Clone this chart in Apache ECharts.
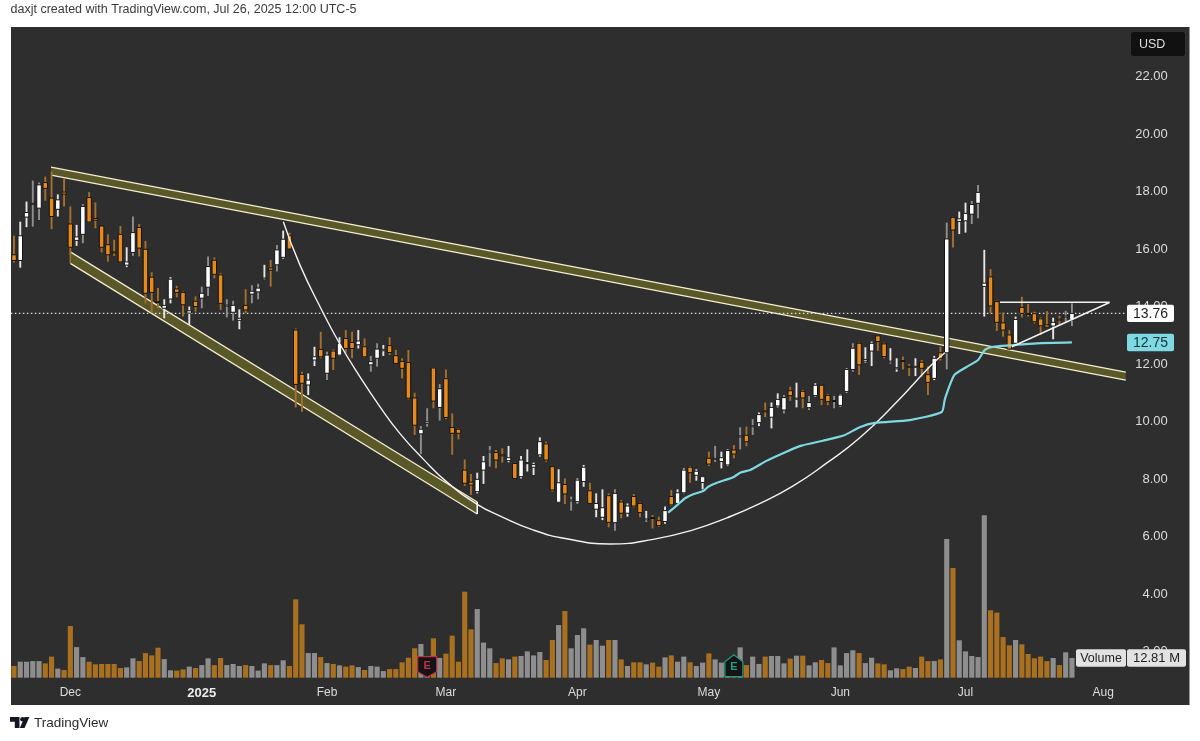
<!DOCTYPE html>
<html><head><meta charset="utf-8">
<style>html,body{margin:0;padding:0;background:#fff}#c{width:1200px;height:741px}</style>
<script src="https://cdn.jsdelivr.net/npm/echarts@6/dist/echarts.min.js"></script>
</head><body><div id="c"></div>
<script>
const opens = [15.80,15.60,17.11,17.57,17.42,18.31,17.77,17.38,17.98,16.87,16.30,16.51,17.79,17.06,16.80,16.15,15.90,16.51,15.44,15.88,16.75,15.99,15.02,14.17,13.94,14.26,14.61,14.49,13.77,14.18,14.29,14.67,15.61,15.10,14.04,13.80,13.52,14.04,14.43,14.51,14.98,15.34,15.45,15.71,16.46,
13.18,11.64,11.27,12.14,12.51,11.68,12.45,12.31,12.89,12.75,12.67,12.60,11.97,12.20,12.46,12.64,12.29,12.09,12.05,10.82,9.57,9.94,11.86,10.49,11.49,9.79,9.73,8.31,7.89,7.56,8.31,8.96,8.92,8.84,8.64,8.54,8.08,8.56,8.41,8.84,9.22,8.43,7.19,7.81,7.26,7.21,
7.91,7.59,6.95,6.67,7.42,6.48,7.20,6.81,7.39,7.15,6.60,6.66,6.55,6.52,7.39,7.15,7.52,8.41,8.13,7.88,8.72,8.71,8.61,8.49,9.01,9.49,9.52,9.84,9.96,10.37,10.15,10.54,10.40,11.07,10.80,11.05,10.48,10.90,11.26,10.91,10.72,10.56,11.04,11.81,12.72,
12.10,12.45,12.98,12.70,12.09,11.83,12.12,11.92,11.91,12.06,11.63,11.50,12.39,12.39,17.10,16.96,16.98,17.21,17.59,14.70,15.03,14.17,13.43,13.01,12.72,13.97,13.76,13.75,13.57,13.36,13.32,13.56,13.66,13.53];
const closes = [15.60,16.46,17.27,17.59,18.23,18.11,17.13,17.71,17.91,16.06,16.42,17.48,16.94,17.00,16.06,15.80,15.88,15.55,15.55,16.57,16.03,14.46,14.49,14.15,14.04,14.95,14.49,14.06,13.85,14.00,14.46,15.39,15.12,14.11,14.05,14.04,13.59,13.88,14.53,14.64,14.99,15.26,15.97,16.34,16.00,
11.29,11.33,11.44,12.25,12.25,12.31,12.20,12.72,12.54,12.54,12.80,12.25,12.08,12.52,12.51,12.40,12.02,11.85,10.81,9.87,9.73,9.99,10.71,11.14,10.14,9.59,9.59,7.85,7.79,7.99,8.60,8.97,8.66,8.83,8.74,8.02,8.66,8.57,8.50,9.30,8.66,7.62,7.87,7.48,7.27,7.96,
8.41,7.15,7.15,7.00,6.49,7.50,6.81,7.06,7.06,6.83,6.61,6.65,6.38,6.90,7.10,7.52,8.31,8.22,8.27,8.08,8.52,8.72,8.74,8.99,8.87,9.50,9.30,9.85,10.24,10.36,10.49,10.77,10.83,10.90,10.81,10.82,10.66,11.26,10.77,10.69,10.73,10.92,11.81,12.55,11.97,
12.16,12.72,12.78,12.26,12.10,11.87,12.11,11.91,11.92,11.85,11.36,12.20,12.20,16.35,16.66,17.05,17.24,17.55,17.97,14.81,14.02,13.45,13.18,12.52,13.55,13.76,13.75,13.47,13.33,13.28,13.45,13.55,13.67,13.76];
const lows = [15.53,15.35,16.76,16.78,17.01,17.68,16.69,17.13,17.48,15.80,16.11,16.20,16.92,16.72,15.88,15.56,15.76,15.53,15.37,15.76,15.74,14.11,13.79,13.95,13.59,14.11,14.32,13.65,13.36,13.82,13.94,14.37,14.98,13.88,13.62,13.51,13.21,13.77,14.11,14.25,14.93,14.69,15.22,15.66,16.00,
10.49,10.34,10.92,11.93,12.20,11.44,11.79,12.29,12.39,12.20,12.54,12.23,11.73,11.91,12.28,12.31,12.00,11.50,10.77,9.53,8.87,9.82,10.46,10.03,10.08,8.84,9.38,7.76,7.44,7.50,7.83,8.43,8.37,8.57,8.58,8.00,8.02,8.26,8.14,8.78,8.60,7.56,7.18,7.13,6.90,7.15,
7.73,7.13,6.67,6.57,6.32,6.20,6.63,6.69,7.01,6.67,6.52,6.28,6.34,6.44,7.06,7.13,7.50,7.87,7.94,7.64,8.45,8.59,8.37,8.45,8.72,9.03,9.14,9.53,9.84,10.15,9.76,10.49,10.28,10.72,10.49,10.46,10.40,10.86,10.57,10.57,10.46,10.52,11.00,11.73,11.62,
12.05,11.93,12.46,12.20,12.02,11.73,11.81,11.58,11.58,11.56,10.92,11.44,12.12,11.81,16.05,16.52,16.57,16.87,17.07,13.65,13.76,13.15,12.95,12.49,12.72,13.62,13.65,13.41,13.01,13.27,12.86,13.36,13.47,13.32];
const highs = [16.46,16.95,17.65,18.38,18.31,18.52,18.69,17.90,18.44,17.48,16.84,17.56,17.98,17.62,16.80,16.51,16.32,16.80,16.06,17.13,16.87,16.28,15.19,14.64,14.25,15.02,14.72,14.52,14.00,14.35,14.69,15.74,15.71,15.16,14.25,14.20,13.90,14.60,14.74,14.79,15.45,15.62,16.14,16.64,16.57,
13.24,11.73,11.67,12.60,13.12,12.43,12.51,12.93,13.18,13.12,13.18,12.89,12.28,12.72,12.66,12.93,12.49,12.20,12.49,11.00,9.84,10.46,11.88,11.30,11.81,10.28,9.76,8.68,8.17,8.22,8.80,9.15,9.01,9.07,9.15,8.57,8.80,9.03,8.57,9.45,9.30,8.45,8.34,8.02,7.39,8.02,
8.49,7.87,7.50,7.64,7.50,7.64,7.27,7.15,7.48,7.18,6.89,6.75,6.69,7.04,7.62,7.64,8.37,8.45,8.34,8.10,8.95,9.15,8.95,9.03,9.18,9.80,9.82,10.08,10.31,10.66,10.66,10.98,10.92,11.21,11.35,11.10,10.89,11.33,11.27,10.96,10.89,10.95,11.85,12.72,12.75,
12.58,12.78,13.01,12.74,12.55,12.20,12.26,12.00,12.20,12.14,11.91,12.28,12.60,16.92,17.12,17.30,17.61,17.67,18.23,15.97,15.30,14.20,13.79,13.18,13.65,14.34,14.09,13.82,13.62,13.84,13.61,13.68,13.85,14.11];
const volumesM = [7.6,10.4,10.4,10.8,10.8,9.3,13.7,5.9,5.0,33.6,19.9,13.4,10.4,8.7,8.9,8.9,8.9,6.3,6.7,12.6,10.8,16.0,14.5,19.5,12.1,4.8,4.6,5.4,7.2,6.3,8.2,12.6,8.2,12.8,8.2,8.9,7.6,8.2,7.6,4.6,9.3,8.2,8.2,11.3,7.6,50.9,34.7,16.0,16.0,13.4,9.5,8.9,8.0,7.2,8.0,6.9,5.0,7.6,7.2,4.3,5.6,5.6,
10.0,13.0,19.1,21.9,8.2,25.6,12.8,15.6,27.3,10.4,55.9,31.4,44.6,22.8,19.1,9.5,12.6,11.9,13.7,14.1,17.1,14.5,16.7,11.5,24.5,34.2,43.3,19.1,27.7,32.1,21.5,24.5,20.8,24.5,24.5,11.9,7.6,10.0,10.0,8.7,9.8,7.2,13.2,14.5,10.4,13.7,10.0,7.6,9.8,15.8,11.9,9.8,10.4,9.3,19.7,8.2,13.7,8.9,13.7,14.1,14.1,9.3,12.4,14.3,
14.3,8.0,10.0,11.5,9.5,19.7,8.0,16.0,17.8,16.0,9.5,13.0,9.3,8.7,4.8,6.1,5.6,7.2,6.3,13.7,10.8,10.8,11.9,90.1,71.3,24.3,17.1,14.1,13.4,105.5,43.8,42.3,26.4,21.0,24.5,21.7,15.4,12.6,13.7,10.8,12.8,8.2,16.5,12.81];
const greyWickBars = [3,4,11,19,30,31,34,35,38,39,42,50,57,58,65,66,68,76,89,96,112,116,118,123,127,131,134,149,153,154,168,169];
const tickIndexes = [9,30,50,69,90,111,132,152,174];
const tickLabels = ['Dec','2025','Feb','Mar','Apr','May','Jun','Jul','Aug'];
const priceTicks = [22,20,18,16,14,12,10,8,6,4,2];
const vwapX = [104.5,106,107.2,108.5,110.1,110.9,112.3,114.9,116,117.6,120.2,123.4,125.8,129.2,132.5,135.1,137.5,143.1,148.2,148.7,150.2,152.2,154,155.1,156.4,159.1,163.4,169];
const vwapY = [6.83,7.10,7.33,7.47,7.58,7.73,7.87,8.06,8.22,8.31,8.63,8.95,9.16,9.33,9.51,9.80,9.95,10.05,10.33,10.78,11.61,11.90,12.14,12.49,12.60,12.65,12.72,12.75];
const cupX = [43.02,45.69,49.15,51.96,55.27,58.47,61.66,65.34,69.12,74,77.6,82.9,88.3,95.2,102.1,108.5,113.9,119.2,124.4,129.8,135.2,141.2,146.3,148.7];
const cupY = [16.95,15.44,13.88,12.73,11.55,10.51,9.58,8.70,7.90,7.12,6.72,6.23,5.92,5.74,5.90,6.23,6.65,7.15,7.75,8.55,9.45,10.72,11.91,12.39];
const topChannel = [[5.91,18.85],[177.6,11.72],[177.6,11.44],[5.91,18.57]];
const lowChannel = [[9,15.9],[74,7.2],[74,6.78],[9,15.5]];
const triangleFlat = [[157.5,14.15],[175,14.15]];
const triangleRise = [[159.4,12.60],[175,14.14]];
const lastPrice = 13.76, vwapLast = 12.75, lastVolume = '12.81 M';
const earnings = [{idx:66,color:'#c0304a',up:false},{idx:115,color:'#1f9c85',up:true}];

const ORANGE='#e8891c', WICK_O='#a5702c', WHITE='#ffffff', WICK_W='#e6e6e6', WICK_G='#8f8f8f';
const VOL_O='#a8701f', VOL_G='#8e8e8e', PANE='#2e2e2e', CREAM='#f3efd0', OLIVE='#5a5828', CYAN='#7fd9e2';
const FONT='"Liberation Sans", Arial, sans-serif';
const N=188, BW=6.26, LEFT=10.87, WIDTH=N*BW;
const xs = opens.map((_,i)=>i);

const candleData = xs.map(i=>[i,opens[i],closes[i],lows[i],highs[i],greyWickBars.includes(i)?1:0]);
const polyData = (pts)=>pts.map(p=>p.slice());
function polygonSeries(pts){
  return {type:'custom',xAxisIndex:0,yAxisIndex:0,silent:true,z:3,clip:false,
    data:pts,
    renderItem:(p,api)=>{
      if(p.dataIndex!==0) return null;
      const c=pts.map(q=>api.coord(q));
      return {type:'group',children:[
        {type:'polygon',shape:{points:c},style:{fill:OLIVE}},
        {type:'line',shape:{x1:c[0][0],y1:c[0][1],x2:c[1][0],y2:c[1][1]},style:{stroke:CREAM,lineWidth:1.2}},
        {type:'line',shape:{x1:c[3][0],y1:c[3][1],x2:c[2][0],y2:c[2][1]},style:{stroke:CREAM,lineWidth:1.2}}
      ]};
    }};
}
function lineSeries(d,color,w,extra){
  return Object.assign({type:'line',xAxisIndex:0,yAxisIndex:0,data:d,symbol:'none',silent:true,z:5,animation:false,
    lineStyle:{color:color,width:w}},extra||{});
}
function priceTag(value,fill,textColor){
  return {type:'custom',xAxisIndex:0,yAxisIndex:0,silent:true,z:20,clip:false,data:[[0,value]],
    renderItem:(p,api)=>{
      const y=api.coord([0,value])[1];
      return {type:'group',children:[
        {type:'rect',shape:{x:1127,y:y-8.7,width:47,height:17.4,r:2},style:{fill:fill}},
        {type:'text',style:{x:1150.5,y:y+0.5,text:value.toFixed(2),fill:textColor,font:'14px '+FONT,align:'center',verticalAlign:'middle'}}
      ]};
    }};
}
const option={
  animation:false,
  backgroundColor:'#ffffff',
  grid:[
    {left:LEFT,width:WIDTH,top:19,height:690},
    {left:LEFT,width:WIDTH,top:493,height:184.7}
  ],
  xAxis:[
    {type:'value',gridIndex:0,min:-0.5,max:N-0.5,show:false},
    {type:'category',gridIndex:1,data:Array.from({length:N},(_,i)=>String(i)),
      axisLine:{show:false},axisTick:{show:false},splitLine:{show:false},
      axisLabel:{show:true,margin:9,color:'#dcdcdc',fontFamily:FONT,fontSize:12,
        interval:(i)=>tickIndexes.includes(i),
        formatter:(v,i)=>{const k=tickIndexes.indexOf(i);if(k<0)return'';return tickLabels[k]==='2025'?'{b|2025}':tickLabels[k];},
        rich:{b:{fontWeight:'bold',fontSize:13,color:'#ececec',fontFamily:FONT}}}}
  ],
  yAxis:[
    {type:'value',gridIndex:0,position:'right',min:0,max:24,interval:2,
      axisLine:{show:false},axisTick:{show:false},splitLine:{show:false},
      axisLabel:{inside:true,margin:20,color:'#dcdcdc',fontFamily:FONT,fontSize:13,
        formatter:(v)=>priceTicks.includes(v)?v.toFixed(2):''}},
    {type:'value',gridIndex:1,min:0,max:120,show:false}
  ],
  series:[
    polygonSeries(polyData(topChannel)),
    polygonSeries(polyData(lowChannel)),
    lineSeries([lowChannel[0],lowChannel[3]],WICK_O,1.5),
    lineSeries([lowChannel[1],lowChannel[2]],WHITE,1.5),
    {type:'custom',name:'candles',xAxisIndex:0,yAxisIndex:0,z:6,clip:false,silent:true,
      data:candleData,encode:{x:0,y:[1,2,3,4]},
      renderItem:(p,api)=>{
        const i=api.value(0),o=api.value(1),c=api.value(2),l=api.value(3),h=api.value(4),g=api.value(5);
        const up=c>=o;
        const bw=api.size([1,0])[0]*0.72;
        const x=api.coord([i,o])[0];
        const yo=api.coord([i,o])[1],yc=api.coord([i,c])[1],yl=api.coord([i,l])[1],yh=api.coord([i,h])[1];
        const top=Math.min(yo,yc),ht=Math.max(Math.abs(yo-yc),1);
        return {type:'group',children:[
          {type:'line',shape:{x1:x,y1:yh,x2:x,y2:yl},style:{stroke:up?(g?WICK_G:WICK_W):WICK_O,lineWidth:1.9}},
          {type:'rect',shape:{x:x-bw/2,y:top,width:bw,height:ht},style:{fill:up?WHITE:ORANGE,stroke:'#141414',lineWidth:1}}
        ]};
      }},
    lineSeries(cupX.map((x,i)=>[x,cupY[i]]),'#f2f2f2',1.4,{smooth:0.5,z:7}),
    lineSeries(vwapX.map((x,i)=>[x,vwapY[i]]),CYAN,2.2,{smooth:0.2,z:7}),
    lineSeries(triangleFlat,'#f2f2f2',1.5,{z:7}),
    lineSeries(triangleRise,'#f2f2f2',1.5,{z:7}),
    lineSeries([[-0.5,lastPrice],[177.6,lastPrice]],'#e0e0e0',1.2,{z:4,lineStyle:{color:'#e0e0e0',width:1.2,type:[1.5,2.5]}}),
    priceTag(lastPrice,'#ffffff','#1c1c1c'),
    priceTag(vwapLast,CYAN,'#11333a'),
    {type:'bar',xAxisIndex:1,yAxisIndex:1,barWidth:'82%',silent:true,z:2,
      data:xs.map(i=>({value:volumesM[i],itemStyle:{color:closes[i]>=opens[i]?VOL_G:VOL_O}}))},
    {type:'custom',xAxisIndex:1,yAxisIndex:1,z:12,silent:true,clip:false,
      data:earnings.map(e=>[e.idx,0]),
      renderItem:(p,api)=>{
        const e=earnings[p.dataIndex];
        const b=api.coord([e.idx,0]);const x=b[0],y=b[1];
        const pts=e.up?[[x-9,y-1],[x+9,y-1],[x+9,y-16],[x,y-23],[x-9,y-16]]:[[x-9.5,y-21],[x+9.5,y-21],[x+9.5,y-6],[x,y-0.5],[x-9.5,y-6]];
        return {type:'group',children:[
          {type:'polygon',shape:{points:pts},style:{fill:'#141414',stroke:e.color,lineWidth:1.2}},
          {type:'text',style:{x:x,y:e.up?y-10.5:y-11.5,text:'E',fill:e.color,font:'bold 11px '+FONT,align:'center',verticalAlign:'middle'}}
        ]};
      }}
  ],
  graphic:[
    {type:'rect',z:-5,silent:true,shape:{x:11,y:27,width:1178.5,height:678},style:{fill:PANE}},
    {type:'text',z:30,silent:true,style:{x:10.5,y:10,text:'daxjt created with TradingView.com, Jul 26, 2025 12:00 UTC-5',fill:'#3a3a3a',font:'12.5px '+FONT,verticalAlign:'middle'}},
    {type:'rect',z:30,silent:true,shape:{x:1131,y:32,width:54,height:24,r:3},style:{fill:'#111111'}},
    {type:'text',z:31,silent:true,style:{x:1139,y:44.5,text:'USD',fill:'#dddddd',font:'12.5px '+FONT,verticalAlign:'middle'}},
    {type:'rect',z:30,silent:true,shape:{x:1076,y:649.3,width:50,height:17.4,r:2},style:{fill:'#e2e2e2'}},
    {type:'text',z:31,silent:true,style:{x:1101,y:658.5,text:'Volume',fill:'#222222',font:'12.5px '+FONT,align:'center',verticalAlign:'middle'}},
    {type:'rect',z:30,silent:true,shape:{x:1127,y:649.3,width:59,height:17.4,r:2},style:{fill:'#e2e2e2'}},
    {type:'text',z:31,silent:true,style:{x:1156.5,y:658.5,text:lastVolume,fill:'#222222',font:'13px '+FONT,align:'center',verticalAlign:'middle'}},
    {type:'polygon',z:30,silent:true,shape:{points:[[10,717],[19.5,717],[19.5,728],[14.8,728],[14.8,721.8],[10,721.8]]},style:{fill:'#131722'}},
    {type:'circle',z:30,silent:true,shape:{cx:22.5,cy:719.3,r:2.3},style:{fill:'#131722'}},
    {type:'polygon',z:30,silent:true,shape:{points:[[24.6,717],[29.4,717],[24.6,728],[19.8,728]]},style:{fill:'#131722'}},
    {type:'text',z:30,silent:true,style:{x:34,y:723,text:'TradingView',fill:'#2c2c2c',font:'13.5px '+FONT,verticalAlign:'middle'}}
  ]
};
const chart=echarts.init(document.getElementById('c'),null,{renderer:'canvas',width:1200,height:741});
chart.setOption(option);
</script></body></html>
